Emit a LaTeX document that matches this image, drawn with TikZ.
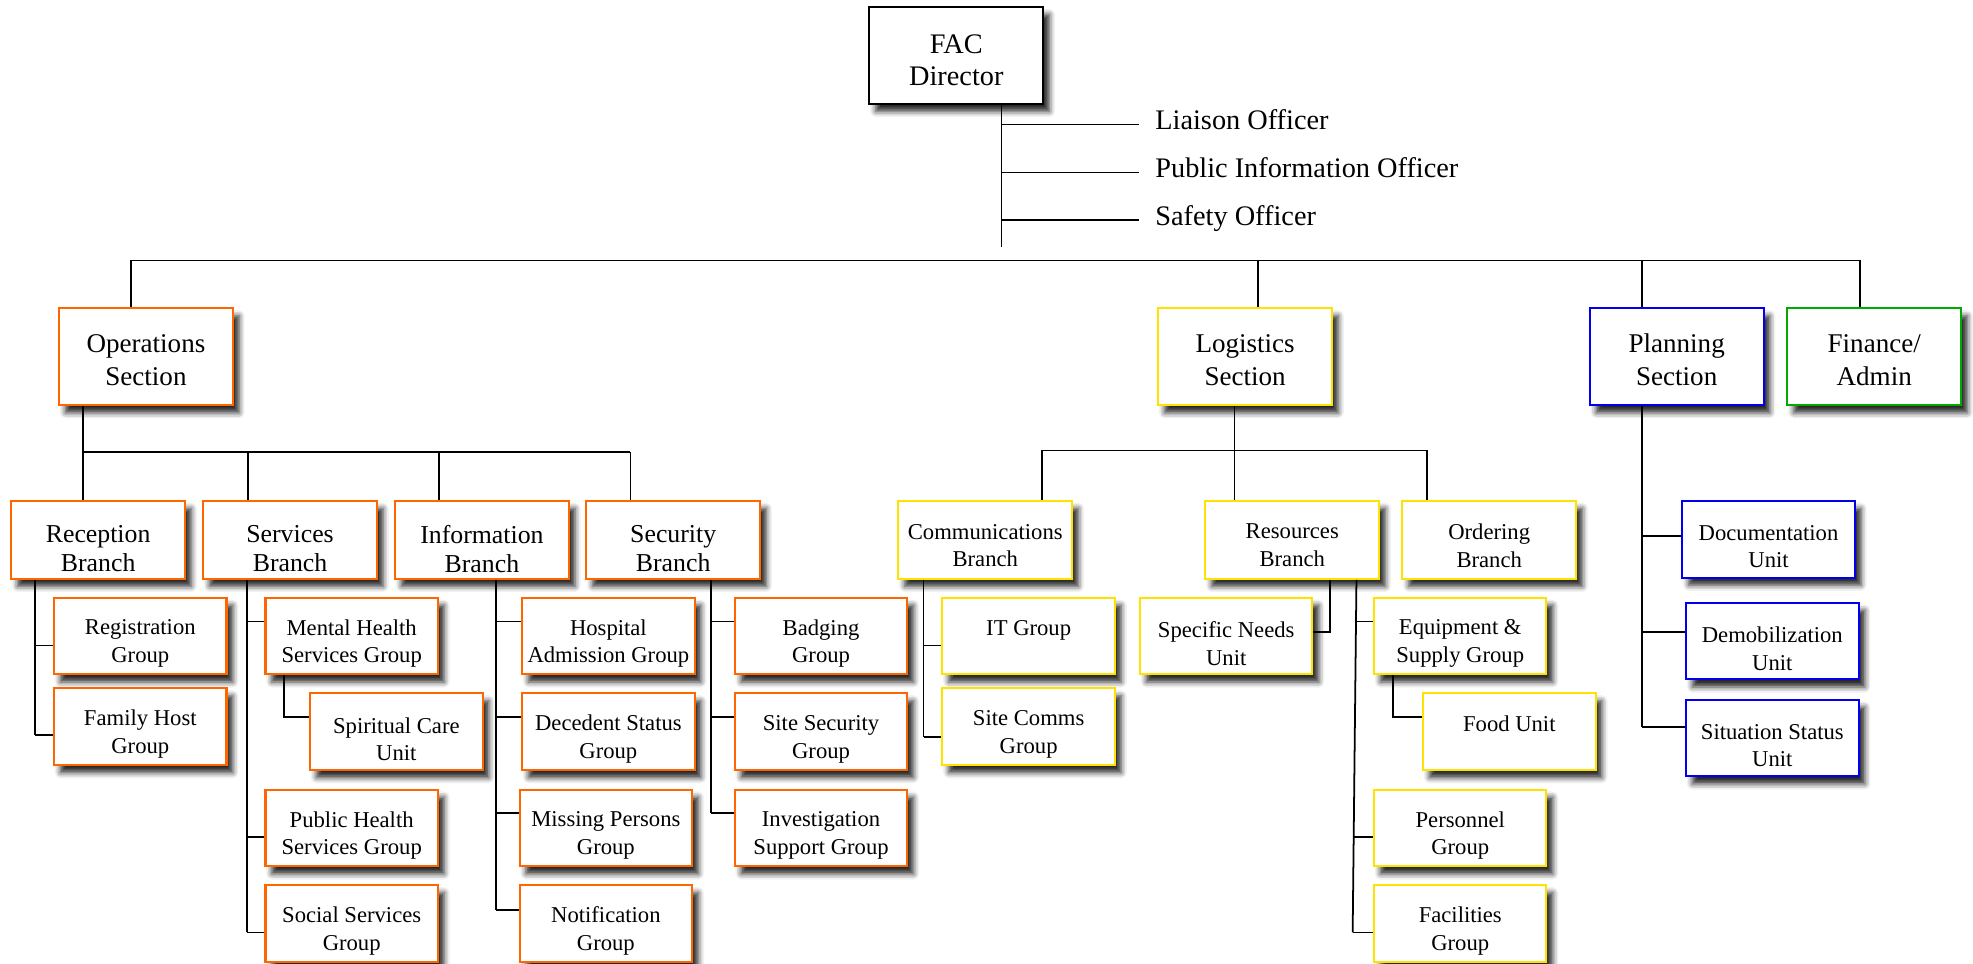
\documentclass[tikz,border=0pt]{standalone}
\usepackage{fontspec}
\setmainfont{Liberation Serif}
\usetikzlibrary{shadows.blur}
\definecolor{opsC}{RGB}{255,102,0}
\definecolor{logC}{RGB}{255,226,0}
\definecolor{planC}{RGB}{0,0,238}
\definecolor{finC}{RGB}{0,170,0}
\begin{document}
\begin{tikzpicture}[x=1pt,y=-1pt,
  box/.style={rectangle, draw, line width=1.6pt, fill=white, inner sep=0pt,
    blur shadow={shadow xshift=5pt, shadow yshift=-6pt, shadow blur radius=4.5pt, shadow opacity=85}},
  secbox/.style={box, minimum width=138pt, minimum height=77pt},
  brbox/.style={box, minimum width=138pt, minimum height=62pt},
  grp/.style={box, minimum width=137pt, minimum height=61pt},
  dirT/.style={inner sep=0pt, align=center, font=\fontsize{22.5}{26}\selectfont, yshift=-4pt},
  secT/.style={inner sep=0pt, align=center, font=\fontsize{21.5}{26}\selectfont, yshift=-2.5pt},
  obrT/.style={inner sep=0pt, align=center, font=\fontsize{20.5}{23}\selectfont, yshift=-7pt},
  lbrT/.style={inner sep=0pt, align=center, font=\fontsize{18}{22}\selectfont, yshift=-4.5pt},
  grpT/.style={inner sep=0pt, align=center, font=\fontsize{18}{22}\selectfont, yshift=-6pt},
  D/.style={label={[dirT]center:#1}},
  S/.style={label={[secT]center:#1}},
  OB/.style={label={[obrT]center:#1}},
  LB/.style={label={[lbrT]center:#1}},
  G/.style={label={[grpT]center:#1}},
  G1/.style={label={[grpT, yshift=-1.5pt]center:#1}},
  oc/.style={draw=opsC}, lc/.style={draw=logC}, pc/.style={draw=planC}, fc/.style={draw=finC},
  officer/.style={anchor=base west, inner sep=0pt, font=\fontsize{22.5}{26}\selectfont},
  conn/.style={line width=1.4pt, black}]
\useasboundingbox (0,0) rectangle (1568,766);

% ---- top ----
\node[secbox, draw=black, D={FAC\\Director}] (dir) at (760,44) {};
\coordinate (dirEnd) at (796,196);
\coordinate (l1) at (905,99);
\coordinate (l2) at (905,137);
\coordinate (l3) at (905,175);
\node[officer] (liaison) at ([xshift=13pt,yshift=-4pt]l1) {Liaison Officer};
\node[officer] (pio) at ([xshift=13pt,yshift=-4pt]l2) {Public Information Officer};
\node[officer] (safety) at ([xshift=13pt,yshift=-4pt]l3) {Safety Officer};
\draw[conn] (dir.south -| dirEnd) -- (dirEnd);
\draw[conn] (l1 -| dirEnd) -- (l1);
\draw[conn] (l2 -| dirEnd) -- (l2);
\draw[conn] (l3 -| dirEnd) -- (l3);

% ---- sections ----
\node[secbox, oc, S={Operations\\Section}] (ops) at (116,283.5) {};
\node[secbox, lc, S={Logistics\\Section}] (log) at (989.5,283.5) {};
\node[secbox, pc, S={Planning\\Section}] (plan) at (1332.5,283.5) {};
\node[secbox, fc, S={Finance/\\Admin}] (fin) at (1489.5,283.5) {};

\coordinate (busL) at (104,207);
\coordinate (busR) at (1478,207);
\draw[conn] (ops.north -| busL) -- (busL) -- (busR) -- (fin.north -| busR);
\draw[conn] (log.north -| 1000,0) -- (1000,207);
\draw[conn] (plan.north -| 1305,0) -- (1305,207);

% ---- operations ----
\node[brbox, oc, OB={Reception\\Branch}] (rec) at (78,429) {};
\node[brbox, oc, OB={Services\\Branch}] (svc) at (230.5,429) {};
\node[brbox, oc, OB={Information\\Branch}] (info) at (383,429) {};
\node[brbox, oc, OB={Security\\Branch}] (secb) at (535,429) {};
\draw[conn] (ops.south -| 66,0) -- (66,359) -- (501,359);
\draw[conn] (66,359) -- (rec.north -| 66,0);
\draw[conn] (197,359) -- (svc.north -| 197,0);
\draw[conn] (349,359) -- (info.north -| 349,0);
\draw[conn] (501,359) -- (secb.north -| 501,0);

\node[grp, oc, G={Registration\\Group}] (regi) at (111.5,505.5) {};
\node[grp, oc, G={Family Host\\Group}] (fam) at (111.5,577.5) {};
\draw[conn] (rec.south -| 28,0) -- (28,584);
\draw[conn] (28,513) -- (regi.west |- 0,513);
\draw[conn] (28,584) -- (fam.west |- 0,584);

\node[grp, oc, G={Mental Health\\Services Group}] (mh) at (279.5,505.5) {};
\node[grp, oc, G={Spiritual Care\\Unit}] (spir) at (315,581.5) {};
\node[grp, oc, G={Public Health\\Services Group}] (ph) at (279.5,658) {};
\node[grp, oc, G={Social Services\\Group}] (soc) at (279.5,734) {};
\draw[conn] (svc.south -| 196,0) -- (196,741);
\draw[conn] (196,494) -- (mh.west |- 0,494);
\draw[conn] (196,665) -- (ph.west |- 0,665);
\draw[conn] (196,741) -- (soc.west |- 0,741);
\draw[conn] (mh.south -| 226,0) -- (226,570) -- (spir.west |- 0,570);

\node[grp, oc, G={Hospital\\Admission Group}] (hosp) at (483.5,505.5) {};
\node[grp, oc, G={Decedent Status\\Group}] (dec) at (483.5,581.5) {};
\node[grp, oc, G={Missing Persons\\Group}] (miss) at (481.5,658) {};
\node[grp, oc, G={Notification\\Group}] (noti) at (481.5,734) {};
\draw[conn] (info.south -| 394,0) -- (394,723);
\draw[conn] (394,494) -- (hosp.west |- 0,494);
\draw[conn] (394,570) -- (dec.west |- 0,570);
\draw[conn] (394,646) -- (miss.west |- 0,646);
\draw[conn] (394,723) -- (noti.west |- 0,723);

\node[grp, oc, G={Badging\\Group}] (badg) at (652.5,505.5) {};
\node[grp, oc, G={Site Security\\Group}] (sitesec) at (652.5,581.5) {};
\node[grp, oc, G={Investigation\\Support Group}] (inv) at (652.5,658) {};
\draw[conn] (secb.south -| 565,0) -- (565,646);
\draw[conn] (565,494) -- (badg.west |- 0,494);
\draw[conn] (565,570) -- (sitesec.west |- 0,570);
\draw[conn] (565,646) -- (inv.west |- 0,646);

% ---- logistics ----
\node[brbox, lc, LB={Communications\\Branch}] (comm) at (783,429) {};
\node[brbox, lc, LB={Resources\\Branch}] (res) at (1027,429) {};
\node[brbox, lc, LB={Ordering\\Branch}] (ord) at (1183.5,429) {};
\draw[conn] (log.south -| 981,0) -- (981,358);
\draw[conn] (828,358) -- (1134,358);
\draw[conn] (828,358) -- (comm.north -| 828,0);
\draw[conn] (981,358) -- (res.north -| 981,0);
\draw[conn] (1134,358) -- (ord.north -| 1134,0);

\node[grp, lc, G1={IT Group\\\strut}] (itg) at (817.5,505.5) {};
\node[grp, lc, G={Site Comms\\Group}] (scomm) at (817.5,577.5) {};
\draw[conn] (comm.south -| 734,0) -- (734,586);
\draw[conn] (734,513) -- (itg.west |- 0,513);
\draw[conn] (734,586) -- (scomm.west |- 0,586);

\node[grp, lc, G={Specific Needs\\Unit}] (spec) at (974.5,505.5) {};
\node[grp, lc, G={Equipment \&\\Supply Group}] (equip) at (1160.5,505.5) {};
\node[grp, lc, G1={Food Unit\\\strut}] (food) at (1199.5,581.5) {};
\node[grp, lc, G={Personnel\\Group}] (pers) at (1160.5,658) {};
\node[grp, lc, G={Facilities\\Group}] (faci) at (1160.5,734) {};
\draw[conn] (res.south -| 1057,0) -- (1057,502) -- (spec.east |- 0,502);
\draw[conn] (res.south -| 1078,0) -- (1075,741);
\draw[conn] (1078,494) -- (equip.west |- 0,494);
\draw[conn] (1076,665) -- (pers.west |- 0,665);
\draw[conn] (1075,741) -- (faci.west |- 0,741);
\draw[conn] (equip.south -| 1107,0) -- (1107,570) -- (food.west |- 0,570);

% ---- planning ----
\node[grp, pc, G={Documentation\\Unit}] (doc) at (1405.5,428.5) {};
\node[grp, pc, G={Demobilization\\Unit}] (demob) at (1408.5,509.5) {};
\node[grp, pc, G={Situation Status\\Unit}] (sit) at (1408.5,586.5) {};
\draw[conn] (plan.south -| 1305,0) -- (1305,578);
\draw[conn] (1305,426) -- (doc.west |- 0,426);
\draw[conn] (1305,502) -- (demob.west |- 0,502);
\draw[conn] (1305,578) -- (sit.west |- 0,578);
\end{tikzpicture}
\end{document}
